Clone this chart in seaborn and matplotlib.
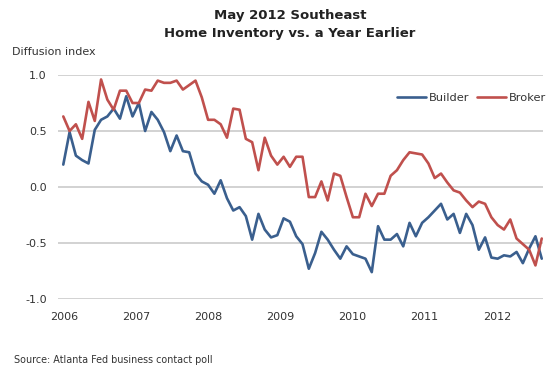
import numpy as np
import pandas as pd
import matplotlib
matplotlib.use("Agg")
import matplotlib.pyplot as plt
import seaborn as sns

# ---------------- data ----------------
months = pd.date_range("2006-01-01", "2012-05-01", freq="MS")

builder = [0.20, 0.49, 0.28, 0.24, 0.21, 0.51, 0.60, 0.63, 0.70, 0.61,
           0.81, 0.63, 0.75, 0.50, 0.67, 0.60, 0.49, 0.32, 0.46, 0.32,
           0.31, 0.12, 0.05, 0.02, -0.06, 0.06, -0.10, -0.21, -0.18, -0.26,
           -0.47, -0.24, -0.38, -0.45, -0.43, -0.28, -0.31, -0.44, -0.51, -0.73,
           -0.59, -0.40, -0.47, -0.56, -0.64, -0.53, -0.60, -0.62, -0.64, -0.76,
           -0.35, -0.47, -0.47, -0.42, -0.53, -0.32, -0.44, -0.32, -0.27, -0.21,
           -0.15, -0.29, -0.24, -0.41, -0.24, -0.34, -0.56, -0.45, -0.63, -0.64,
           -0.61, -0.62, -0.58, -0.68, -0.55, -0.44, -0.64]

broker = [0.63, 0.50, 0.56, 0.43, 0.76, 0.59, 0.96, 0.78, 0.69, 0.86,
          0.86, 0.75, 0.75, 0.87, 0.86, 0.95, 0.93, 0.93, 0.95, 0.87,
          0.91, 0.95, 0.80, 0.60, 0.60, 0.56, 0.44, 0.70, 0.69, 0.43,
          0.40, 0.15, 0.44, 0.28, 0.20, 0.27, 0.18, 0.27, 0.27, -0.09,
          -0.09, 0.05, -0.12, 0.12, 0.10, -0.09, -0.27, -0.27, -0.06, -0.17,
          -0.06, -0.06, 0.10, 0.15, 0.24, 0.31, 0.30, 0.29, 0.21, 0.08,
          0.12, 0.04, -0.03, -0.05, -0.12, -0.18, -0.13, -0.15, -0.27, -0.34,
          -0.38, -0.29, -0.46, -0.51, -0.56, -0.70, -0.46]

series_names = ["Builder", "Broker"]
year_labels = ["2006", "2007", "2008", "2009", "2010", "2011", "2012"]
y_ticks = [1.0, 0.5, 0.0, -0.5, -1.0]
y_tick_labels = ["1.0", "0.5", "0.0", "-0.5", "-1.0"]

title_lines = ["May 2012 Southeast", "Home Inventory vs. a Year Earlier"]
y_title = "Diffusion index"
source = "Source: Atlanta Fed business contact poll"

# ---------------- build table ----------------
df = pd.DataFrame({"idx": np.arange(len(months)),
                   "Builder": builder, "Broker": broker})
long = df.melt(id_vars="idx", value_vars=series_names,
               var_name="Series", value_name="Value")

# ---------------- style ----------------
sns.set_theme(style="white")
plt.rcParams["font.family"] = ["DejaVu Sans"]

W, H = 547, 373
fig = plt.figure(figsize=(W / 100, H / 100), dpi=100)
fig.patch.set_facecolor("white")

ax = fig.add_axes([58 / W, 1 - 299 / H, (543 - 58) / W, 224 / H])

palette = {"Builder": "#3A5F8E", "Broker": "#C0504D"}
sns.lineplot(data=long, x="idx", y="Value", hue="Series",
             hue_order=series_names, palette=palette,
             linewidth=1.9, ax=ax, legend=True)

ax.set_ylim(-1, 1)
ax.set_xlim(-0.84, 76.2)
ax.set_yticks(y_ticks)
ax.set_yticklabels(y_tick_labels)
year_pos = 0.1 + 11.46 * np.arange(len(year_labels))
ax.set_xticks(year_pos)
ax.set_xticklabels(year_labels)
ax.set_xlabel("")
ax.set_ylabel("")

ax.grid(axis="y", color="#CFCFCF", linewidth=1.3)
ax.grid(axis="x", visible=False)
ax.set_axisbelow(True)
for s in ax.spines.values():
    s.set_visible(False)

ax.tick_params(axis="both", length=0, labelsize=8, colors="#333333")
ax.tick_params(axis="y", pad=8)
ax.tick_params(axis="x", pad=9)

# legend
handles, labels = ax.get_legend_handles_labels()
ax.legend(handles, labels, loc="center right", frameon=False,
          bbox_to_anchor=(546 / W, 1 - 98 / H), bbox_transform=fig.transFigure,
          ncol=2, fontsize=8.2, handlelength=2.6, handletextpad=0.2,
          columnspacing=0.7, borderaxespad=0, borderpad=0,
          labelcolor="#333333")

# texts
fig.text(290 / W, 1 - 15 / H, title_lines[0], ha="center", va="center",
         fontsize=9.5, fontweight="bold", color="#222222")
fig.text(290 / W, 1 - 33 / H, title_lines[1], ha="center", va="center",
         fontsize=9.5, fontweight="bold", color="#222222")
fig.text(12 / W, 1 - 52 / H, y_title, ha="left", va="center",
         fontsize=8, color="#333333")
fig.text(14 / W, 1 - 360 / H, source, ha="left", va="center",
         fontsize=6.9, color="#333333")

fig.savefig("out.png", dpi=100, facecolor="white")
